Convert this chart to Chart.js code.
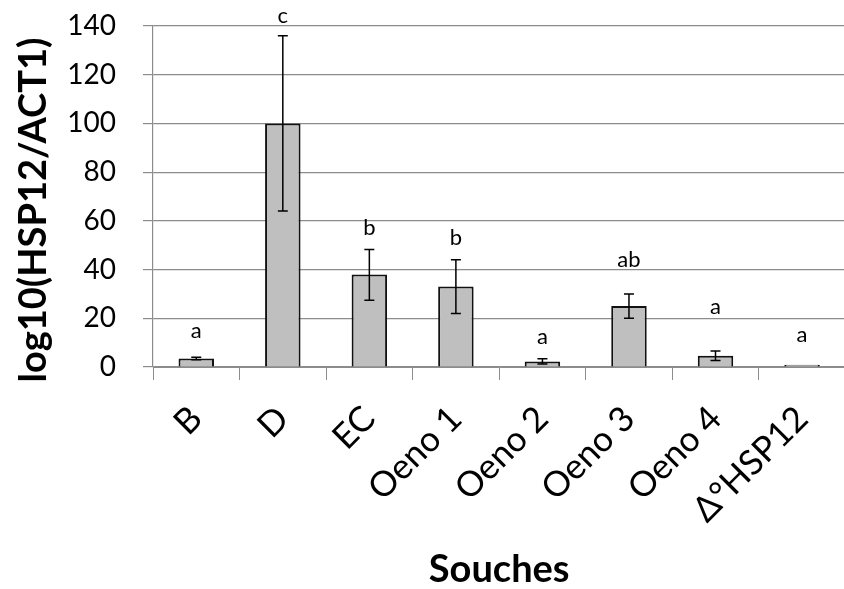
<!DOCTYPE html>
<html lang="fr">
<head>
  <meta charset="UTF-8">
  <title>HSP12 / ACT1</title>
  <script src="https://cdn.jsdelivr.net/npm/chart.js"></script>
  <style>
    html, body {
      margin: 0;
      padding: 0;
      background: #fff;
      overflow: hidden;
    }
    .wrap {
      width: 850px;
      height: 589px;
    }
  </style>
</head>
<body>
  <div class="wrap">
    <canvas id="chart"></canvas>
  </div>

  <script>
    // data
    const souches = ['B', 'D', 'EC', 'Oeno 1', 'Oeno 2', 'Oeno 3', 'Oeno 4', 'Δ°HSP12'];
    const ratio = [3.5, 100, 38, 33, 2.3, 25, 4.6, 0.9];
    const errLow = [3.0, 64, 27.4, 22, 1.2, 20, 2.7, 0.9];
    const errHigh = [4.0, 136, 48.2, 44, 3.4, 30, 6.6, 0.9];
    const groups = ['a', 'c', 'b', 'b', 'a', 'ab', 'a', 'a'];
    const groupAt = [15, 144, 57, 53, 12.5, 44, 24.5, 13];
    const yTicks = [0, 20, 40, 60, 80, 100, 120, 140];
    const yTitle = 'log10(HSP12/ACT1)';

    const font = 'Lato, "Liberation Sans", sans-serif';

    // error bars, significance letters and the y title
    const extras = {
      id: 'extras',
      afterDatasetsDraw(chart) {
        const ctx = chart.ctx;
        const x = chart.scales.x;
        const y = chart.scales.y;
        ctx.save();
        ctx.strokeStyle = '#000';
        ctx.lineWidth = 1.5;
        souches.forEach((s, i) => {
          if (errHigh[i] === errLow[i]) return;
          const cx = x.getPixelForValue(i);
          const top = y.getPixelForValue(errHigh[i]);
          const bot = y.getPixelForValue(errLow[i]);
          ctx.beginPath();
          ctx.moveTo(cx, top);
          ctx.lineTo(cx, bot);
          ctx.moveTo(cx - 5, top);
          ctx.lineTo(cx + 5, top);
          ctx.moveTo(cx - 5, bot);
          ctx.lineTo(cx + 5, bot);
          ctx.stroke();
        });
        ctx.fillStyle = '#000';
        ctx.font = '22px ' + font;
        ctx.textAlign = 'center';
        ctx.textBaseline = 'middle';
        groups.forEach((g, i) => {
          ctx.fillText(g, x.getPixelForValue(i), y.getPixelForValue(groupAt[i]));
        });

        ctx.font = 'bold 38px ' + font;
        ctx.translate(34, 210);
        ctx.rotate(-Math.PI / 2);
        ctx.fillText(yTitle, 0, 0);
        ctx.restore();
      }
    };

    new Chart(document.getElementById('chart'), {
      type: 'bar',
      data: {
        labels: souches,
        datasets: [{
          data: ratio,
          backgroundColor: '#bfbfbf',
          borderColor: '#111',
          borderWidth: 2,
          categoryPercentage: 1,
          barPercentage: 0.41
        }]
      },
      options: {
        responsive: true,
        maintainAspectRatio: false,
        animation: false,
        layout: {
          padding: { top: 26, right: 4, left: 0, bottom: 0 }
        },
        plugins: {
          legend: { display: false },
          tooltip: { enabled: false }
        },
        scales: {
          x: {
            afterFit(scale) { scale.height = 222; },
            grid: {
              drawOnChartArea: false,
              drawTicks: true,
              tickLength: 13,
              color: '#8c8c8c'
            },
            border: { color: '#8c8c8c' },
            ticks: {
              color: '#000',
              font: { family: font, size: 35 },
              minRotation: 45,
              maxRotation: 45,
              padding: 18
            },
            title: {
              display: true,
              text: 'Souches',
              color: '#000',
              font: { family: font, size: 38, weight: 'bold', lineHeight: 1 },
              padding: { top: 0, bottom: 0 }
            }
          },
          y: {
            min: 0,
            max: 140,
            afterFit(scale) {
              scale.width = 153;
              scale.paddingTop = 0;
              scale.paddingBottom = 0;
            },
            afterBuildTicks(scale) {
              scale.ticks = yTicks.map(v => ({ value: v }));
            },
            grid: {
              color: '#8c8c8c',
              tickColor: '#8c8c8c',
              tickLength: 10,
              lineWidth: 1.2
            },
            border: { color: '#8c8c8c', width: 1.2 },
            ticks: {
              color: '#000',
              font: { family: font, size: 28 },
              padding: 27
            }
          }
        }
      },
      plugins: [extras]
    });
  </script>
</body>
</html>
